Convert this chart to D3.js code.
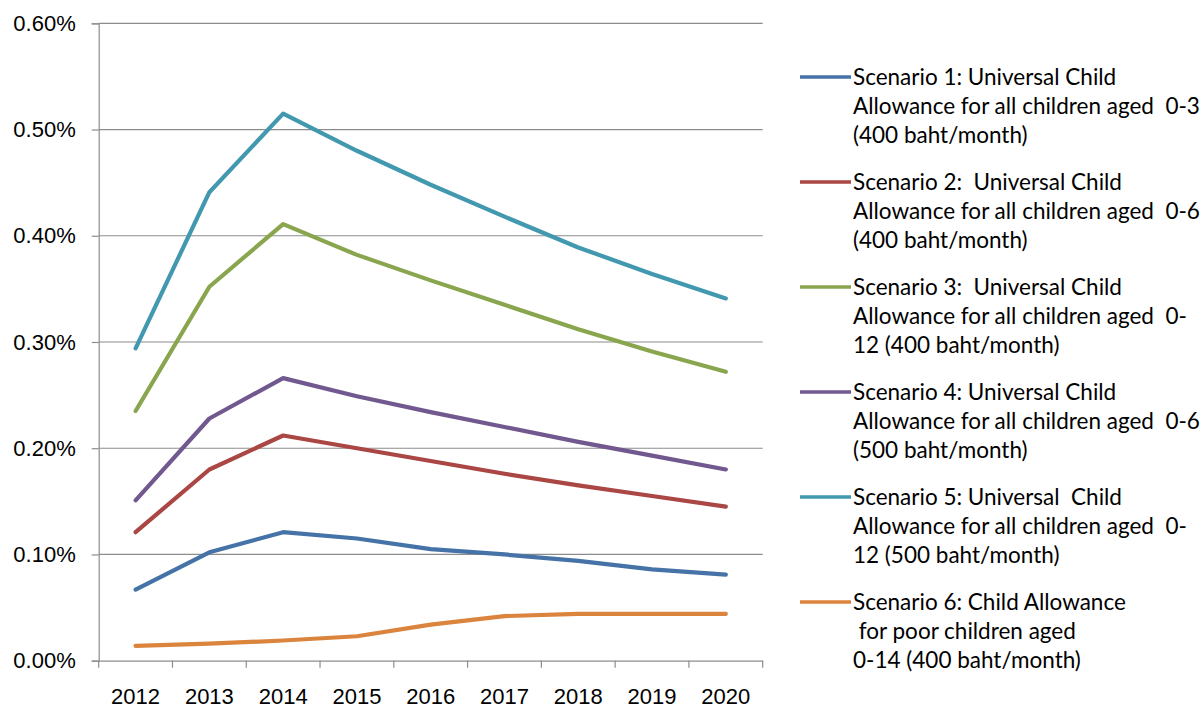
<!DOCTYPE html>
<html>
<head>
<meta charset="utf-8">
<script src="https://cdn.jsdelivr.net/npm/d3@7"></script>
<style>
  body { margin: 0; background: #fff; }
  svg { font-family: Lato, "Liberation Sans", sans-serif; }
  .legend text { white-space: pre; }
</style>
</head>
<body>
<div id="chart"></div>
<script>
const width = 1203
const height = 711

const years = ['2012', '2013', '2014', '2015', '2016', '2017', '2018', '2019', '2020']
const yTicks = [0, 0.1, 0.2, 0.3, 0.4, 0.5, 0.6]

// percent of GDP
const scenario1 = [0.067, 0.102, 0.121, 0.115, 0.105, 0.100, 0.094, 0.086, 0.081]
const scenario2 = [0.121, 0.180, 0.212, 0.200, 0.188, 0.176, 0.165, 0.155, 0.145]
const scenario3 = [0.235, 0.352, 0.411, 0.382, 0.358, 0.335, 0.312, 0.291, 0.272]
const scenario4 = [0.151, 0.228, 0.266, 0.249, 0.234, 0.220, 0.206, 0.193, 0.180]
const scenario5 = [0.294, 0.441, 0.515, 0.480, 0.448, 0.418, 0.389, 0.364, 0.341]
const scenario6 = [0.014, 0.016, 0.019, 0.023, 0.034, 0.042, 0.044, 0.044, 0.044]

const labels = [
    ['Scenario 1: Universal Child', 'Allowance for all children aged  0-3', '(400 baht/month)'],
    ['Scenario 2:  Universal Child', 'Allowance for all children aged  0-6', '(400 baht/month)'],
    ['Scenario 3:  Universal Child', 'Allowance for all children aged  0-', '12 (400 baht/month)'],
    ['Scenario 4: Universal Child', 'Allowance for all children aged  0-6', '(500 baht/month)'],
    ['Scenario 5: Universal  Child', 'Allowance for all children aged  0-', '12 (500 baht/month)'],
    ['Scenario 6: Child Allowance', ' for poor children aged', '0-14 (400 baht/month)']
]
const colors = ['#4572A7', '#AA4643', '#89A54E', '#71588F', '#4198AF', '#DB843D']

const series = [scenario1, scenario2, scenario3, scenario4, scenario5, scenario6]
    .map((values, i) => ({ values, label: labels[i], color: colors[i] }))

const plotLeft = 98.7, plotRight = 762.7, plotTop = 23.3, plotBottom = 660.7
const fontSize = 22

const x = d3.scaleBand()
    .domain(years)
    .range([plotLeft, plotRight])

const y = d3.scaleLinear()
    .domain([0, 0.6])
    .range([plotBottom, plotTop])

const svg = d3.select('#chart')
    .append('svg')
    .attr('width', width)
    .attr('height', height)

// gridlines
svg.append('g')
    .selectAll('line')
    .data(yTicks.slice(1))
    .enter()
    .append('line')
    .attr('x1', plotLeft)
    .attr('x2', plotRight)
    .attr('y1', d => y(d))
    .attr('y2', d => y(d))
    .attr('stroke', '#8c8c8c')
    .attr('stroke-width', 1.2)

// y axis
const yAxis = svg.append('g')
    .attr('transform', `translate(${plotLeft},0)`)
    .call(d3.axisLeft(y)
        .tickValues(yTicks)
        .tickSize(7)
        .tickPadding(16)
        .tickFormat(d => d.toFixed(2) + '%'))
yAxis.select('.domain').attr('stroke', '#8c8c8c').attr('stroke-width', 1.2)
yAxis.selectAll('.tick line').attr('stroke', '#8c8c8c').attr('stroke-width', 1.2)
yAxis.selectAll('text').attr('font-size', fontSize).attr('fill', '#000')

// x axis
const xAxis = svg.append('g')
    .attr('transform', `translate(0,${plotBottom})`)
    .call(d3.axisBottom(x)
        .tickSize(0)
        .tickPadding(28))
xAxis.select('.domain').attr('stroke', '#8c8c8c').attr('stroke-width', 1.2)
xAxis.selectAll('text').attr('font-size', fontSize).attr('fill', '#000')

xAxis.selectAll('line.bound')
    .data(years.map(d => x(d)).concat([plotRight]))
    .enter()
    .append('line')
    .attr('class', 'bound')
    .attr('x1', d => d)
    .attr('x2', d => d)
    .attr('y1', 0)
    .attr('y2', 7)
    .attr('stroke', '#8c8c8c')
    .attr('stroke-width', 1.2)

// lines
const line = d3.line()
    .x((d, i) => x(years[i]) + x.bandwidth() / 2)
    .y(d => y(d))

svg.append('g')
    .selectAll('path')
    .data(series)
    .enter()
    .append('path')
    .attr('d', d => line(d.values))
    .attr('fill', 'none')
    .attr('stroke', d => d.color)
    .attr('stroke-width', 4.2)
    .attr('stroke-linejoin', 'round')
    .attr('stroke-linecap', 'round')

// legend
const legend = svg.append('g')
    .attr('class', 'legend')

const items = legend.selectAll('g')
    .data(series)
    .enter()
    .append('g')
    .attr('transform', (d, i) => `translate(0,${77 + i * 105})`)

items.append('line')
    .attr('x1', 800)
    .attr('x2', 851)
    .attr('stroke', d => d.color)
    .attr('stroke-width', 3.5)

items.append('text')
    .attr('font-size', 22.5)
    .attr('fill', '#000')
    .selectAll('tspan')
    .data(d => d.label)
    .enter()
    .append('tspan')
    .attr('x', 853)
    .attr('y', (d, i) => i * 29)
    .attr('dy', '0.35em')
    .text(d => d)
</script>
</body>
</html>
